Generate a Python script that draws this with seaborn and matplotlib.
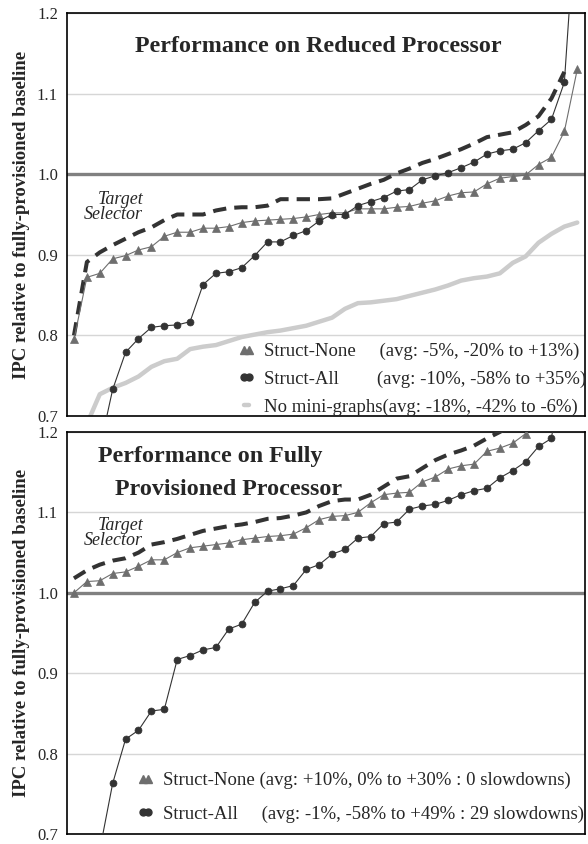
import numpy as np
import matplotlib
matplotlib.use("Agg")
import matplotlib.pyplot as plt
from matplotlib.lines import Line2D
import seaborn as sns

# ---------------- data ----------------
top_struct_none = [0.795, 0.872, 0.877, 0.895, 0.899, 0.906, 0.910, 0.923, 0.928, 0.928,
                   0.933, 0.933, 0.935, 0.940, 0.942, 0.943, 0.944, 0.945, 0.947, 0.950,
                   0.952, 0.952, 0.957, 0.957, 0.957, 0.959, 0.960, 0.964, 0.967, 0.973,
                   0.977, 0.978, 0.988, 0.995, 0.997, 0.999, 1.012, 1.021, 1.053, 1.130]
top_struct_all = [0.42, 0.58, 0.66, 0.733, 0.779, 0.796, 0.810, 0.812, 0.813, 0.817,
                  0.863, 0.877, 0.879, 0.884, 0.899, 0.916, 0.916, 0.924, 0.930, 0.942,
                  0.950, 0.950, 0.961, 0.966, 0.971, 0.979, 0.981, 0.993, 0.998, 1.002,
                  1.008, 1.015, 1.025, 1.029, 1.031, 1.039, 1.054, 1.068, 1.114, 1.35]
top_target = [0.800, 0.891, 0.903, 0.912, 0.920, 0.928, 0.934, 0.943, 0.950, 0.950,
              0.950, 0.955, 0.958, 0.959, 0.959, 0.961, 0.969, 0.969, 0.969, 0.969,
              0.970, 0.976, 0.982, 0.988, 0.993, 1.001, 1.007, 1.014, 1.019, 1.025,
              1.031, 1.038, 1.046, 1.049, 1.052, 1.061, 1.072, 1.094, 1.127]
top_no_minigraphs = [0.58, 0.69, 0.727, 0.735, 0.741, 0.749, 0.761, 0.768, 0.771, 0.783,
                     0.786, 0.788, 0.793, 0.798, 0.801, 0.804, 0.806, 0.809, 0.812, 0.817,
                     0.822, 0.833, 0.840, 0.841, 0.843, 0.845, 0.849, 0.853, 0.857, 0.862,
                     0.868, 0.871, 0.873, 0.877, 0.890, 0.898, 0.915, 0.926, 0.935, 0.940]

bot_struct_none = [1.000, 1.014, 1.015, 1.024, 1.026, 1.033, 1.041, 1.041, 1.050, 1.056,
                   1.058, 1.060, 1.062, 1.066, 1.068, 1.070, 1.071, 1.073, 1.081, 1.091,
                   1.095, 1.096, 1.100, 1.112, 1.122, 1.124, 1.125, 1.138, 1.144, 1.154,
                   1.158, 1.160, 1.176, 1.180, 1.186, 1.198, 1.215, 1.23, 1.26, 1.30]
bot_struct_all = [0.42, 0.55, 0.68, 0.763, 0.818, 0.829, 0.853, 0.855, 0.917, 0.922,
                  0.929, 0.932, 0.955, 0.961, 0.988, 1.002, 1.005, 1.009, 1.029, 1.035,
                  1.048, 1.054, 1.068, 1.070, 1.086, 1.088, 1.104, 1.108, 1.110, 1.115,
                  1.122, 1.127, 1.130, 1.143, 1.152, 1.163, 1.182, 1.192, 1.30, 1.49]
bot_target = [1.018, 1.028, 1.035, 1.040, 1.043, 1.050, 1.060, 1.063, 1.067, 1.072,
              1.077, 1.080, 1.083, 1.085, 1.088, 1.092, 1.093, 1.096, 1.100, 1.108,
              1.114, 1.116, 1.116, 1.122, 1.132, 1.142, 1.145, 1.155, 1.165, 1.172,
              1.177, 1.183, 1.192, 1.200, 1.21, 1.22, 1.235, 1.25, 1.28, 1.35]

yticks = [0.7, 0.8, 0.9, 1.0, 1.1, 1.2]
ytick_labels = ["0.7", "0.8", "0.9", "1.0", "1.1", "1.2"]

top_title = "Performance on Reduced Processor"
bot_title = ["Performance on Fully", "Provisioned Processor"]
ylabel = "IPC relative to fully-provisioned baseline"
top_legend = ["Struct-None     (avg: -5%, -20% to +13%)",
              "Struct-All        (avg: -10%, -58% to +35%)",
              "No mini-graphs(avg: -18%, -42% to -6%)"]
bot_legend = ["Struct-None (avg: +10%, 0% to +30% : 0 slowdowns)",
              "Struct-All     (avg: -1%, -58% to +49% : 29 slowdowns)"]

# ---------------- style ----------------
sns.set_style("white")
plt.rcParams["font.family"] = ["Liberation Serif", "DejaVu Serif"]

C_NONE = "#6e6e6e"
C_ALL = "#333333"
C_TGT = "#333333"
C_NOMG = "#cccccc"

fig = plt.figure(figsize=(5.88, 8.44), dpi=100)
ax1 = fig.add_axes([67 / 588, 1 - 416 / 844, 518 / 588, 403 / 844])
ax2 = fig.add_axes([67 / 588, 1 - 834 / 844, 518 / 588, 402 / 844])


def panel(ax, none, allv, target, nomg=None):
    ax.axhline(1.0, color="#808080", lw=2.4, zorder=1.5)
    if nomg is not None:
        sns.lineplot(x=np.arange(len(nomg)), y=nomg, ax=ax, color=C_NOMG, lw=3.2,
                     legend=False, zorder=2)
    sns.lineplot(x=np.arange(len(target)), y=target, ax=ax, color=C_TGT, lw=2.9,
                 linestyle=(0, (3.3, 2.0)), legend=False, zorder=3)
    ax.lines[-1].set_dash_capstyle("butt")
    sns.lineplot(x=np.arange(len(none)), y=none, ax=ax, color=C_NONE, lw=0.8,
                 marker="^", markersize=6, markeredgecolor=C_NONE, markeredgewidth=0.5,
                 legend=False, zorder=4)
    sns.lineplot(x=np.arange(len(allv)), y=allv, ax=ax, color=C_ALL, lw=0.8,
                 marker="o", markersize=5, markeredgecolor=C_ALL, markeredgewidth=0.5,
                 legend=False, zorder=5)
    ax.set_xlim(-0.54, 39.6)
    ax.set_ylim(0.7, 1.2)
    ax.set_yticks(yticks)
    ax.set_yticklabels(ytick_labels, fontsize=12)
    ax.set_xticks([])
    ax.set_xlabel("")
    ax.tick_params(axis="y", length=0, pad=6.5)
    ax.yaxis.grid(True, color="#d6d6d6", lw=1.0)
    ax.set_axisbelow(True)
    for s in ax.spines.values():
        s.set_visible(True)
        s.set_color("black")
        s.set_linewidth(1.2)
    ax.set_ylabel(ylabel, fontsize=13.5, fontweight="bold")
    ax.yaxis.set_label_coords(-0.072, 0.5)


panel(ax1, top_struct_none, top_struct_all, top_target, top_no_minigraphs)
panel(ax2, bot_struct_none, bot_struct_all, bot_target)

h_none = Line2D([], [], color=C_NONE, lw=0.8, marker="^", markersize=6,
                markeredgecolor=C_NONE)
h_all = Line2D([], [], color=C_ALL, lw=0.8, marker="o", markersize=5,
               markeredgecolor=C_ALL)
h_nomg = Line2D([], [], color=C_NOMG, lw=3.2)

leg_kw = dict(frameon=False, numpoints=2, handlelength=0.9, handletextpad=0.5,
              borderpad=0, borderaxespad=0, fontsize=13.5, loc="upper left")
ax1.legend([h_none, h_all, h_nomg], top_legend, bbox_to_anchor=(0.33, 0.181),
           labelspacing=0.55, **leg_kw)
ax2.legend([h_none, h_all], bot_legend, bbox_to_anchor=(0.135, 0.154),
           labelspacing=0.85, **leg_kw)

# titles
ax1.text(0.486, 0.918, top_title, transform=ax1.transAxes, ha="center", va="center",
         fontsize=17.3, fontweight="bold")
ax2.text(0.276, 0.938, bot_title[0], transform=ax2.transAxes, ha="center", va="center",
         fontsize=17.3, fontweight="bold")
ax2.text(0.312, 0.856, bot_title[1], transform=ax2.transAxes, ha="center", va="center",
         fontsize=17.3, fontweight="bold")

# "Target Selector" annotations
for ax, yc in ((ax1, 0.519), (ax2, 0.749)):
    ax.text(0.147, yc, "Target\nSelector", transform=ax.transAxes, ha="right",
            va="center", multialignment="right", fontsize=13, fontstyle="italic",
            linespacing=0.85)

fig.savefig("out.png", dpi=100)
